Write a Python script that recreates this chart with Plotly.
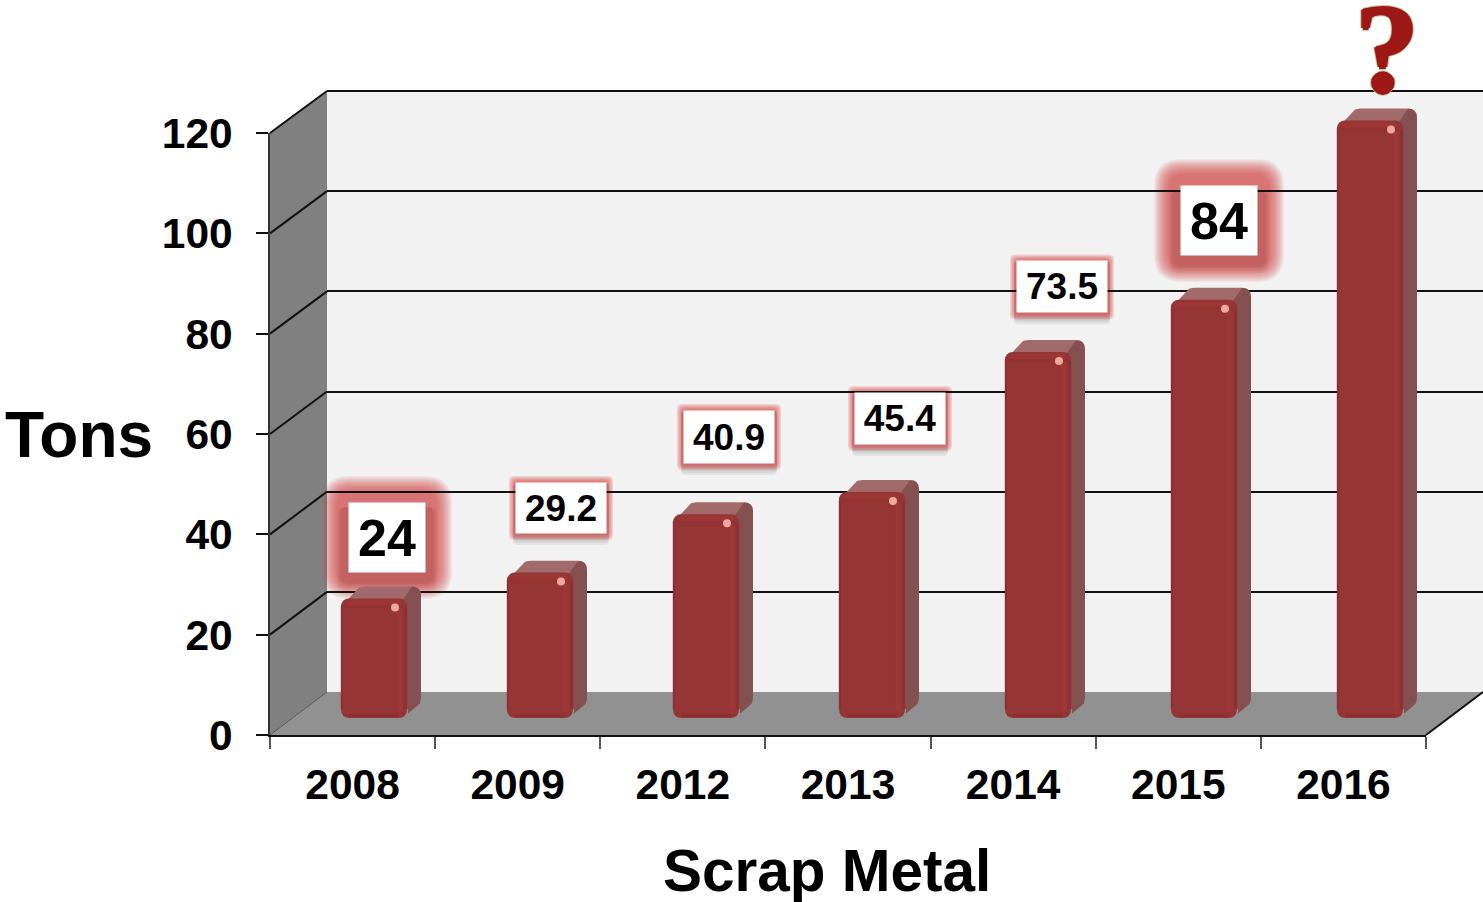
import plotly.graph_objects as go

YEARS = ["2008", "2009", "2012", "2013", "2014", "2015", "2016"]
TONS = [24, 29.2, 40.9, 45.4, 73.5, 84, 120]
LABELS = ["24", "29.2", "40.9", "45.4", "73.5", "84", "?"]
Y_TICKS = [0, 20, 40, 60, 80, 100, 120]
GRID_TICKS = [20, 40, 60, 80, 100, 120]

W, H = 1483, 902
FONT = "Liberation Sans"

# label box layout: centre x, centre y, width, height, font size, big glow
BOXES = [
    (387, 537.5, 76, 69, 52, True),
    (561, 508, 90, 50, 37, False),
    (729, 437, 90, 52, 37, False),
    (900, 418.5, 90, 51, 37, False),
    (1062, 287, 90, 51, 37, False),
    (1219, 220.5, 76, 69, 52, True),
]


def px(x):
    return x / W


def py(y):
    return 1 - y / H


def poly(points):
    return "M " + " L ".join(f"{px(x)},{py(y)}" for x, y in points) + " Z"


def rrect(x0, y0, x1, y1, r):
    X0, X1, Y0, Y1 = px(x0), px(x1), py(y0), py(y1)
    rx, ry = r / W, r / H
    return (
        f"M {X0+rx},{Y0} L {X1-rx},{Y0} Q {X1},{Y0} {X1},{Y0-ry} "
        f"L {X1},{Y1+ry} Q {X1},{Y1} {X1-rx},{Y1} L {X0+rx},{Y1} "
        f"Q {X0},{Y1} {X0},{Y1+ry} L {X0},{Y0-ry} Q {X0},{Y0} {X0+rx},{Y0} Z"
    )


shapes = []


def pshape(path, fill, line=None, width=0, layer="below"):
    shapes.append(dict(type="path", path=path, xref="paper", yref="paper", fillcolor=fill,
                       line=dict(color=line or "rgba(0,0,0,0)", width=width), layer=layer))


def pline(x0, y0, x1, y1, color="#111111", width=2):
    shapes.append(dict(type="line", xref="paper", yref="paper", x0=px(x0), y0=py(y0), x1=px(x1), y1=py(y1),
                       line=dict(color=color, width=width), layer="below"))


# walls and floor
pshape(poly([(327, 91), (1483, 91), (1483, 692), (327, 692)]), "#f2f2f2")
pshape(poly([(270, 133), (327, 91), (327, 692), (270, 735)]), "#808080")
pshape(poly([(270, 735), (327, 692), (1483, 692), (1426, 735)]), "#919191")


def y_main(v):
    return 735 - v * (735 - 133) / 120


def y_wall(v):
    return 692 - v * (692 - 91) / 120


for v in Y_TICKS:
    pline(270, y_main(v), 327, y_wall(v), "#111111" if v else "#555555", 2 if v else 1)
pline(1426, 735, 1483, 692)
pline(327, y_wall(120), 1483, y_wall(120))

# label glows
for cx, cy, w, h, fs, big in BOXES:
    x0, x1, y0, y1 = cx - w / 2, cx + w / 2, cy - h / 2, cy + h / 2
    if big:
        for i in range(16):
            e = 27 - i
            pshape(rrect(x0 - e, y0 - e, x1 + e, y1 + e, 27 - i * 0.8), "rgba(215,60,60,0.068)")
        for i in range(5):
            pshape(rrect(x0 - 12 + i, y0 + 4, x1 + 12 - i, y1 + 18 - 2 * i, 8), "rgba(110,20,20,0.04)")
    else:
        for i in range(4):
            e = 3 + i * 2
            pshape(rrect(x0 - 3, y0, x1 + 3, y1 + e + 3, 4), "rgba(0,0,0,0.055)")
        for i in range(5):
            e = 7 - i * 1.2
            pshape(rrect(x0 - e, y0 - e, x1 + e, y1 + e, 5), "rgba(215,60,60,0.18)")

# bar depth and gloss
HALF, DX, DY = 33, 14, 2.4
u = 1 / 4.98
FLOOR = "#919191"


def bshape(i, path, fill, layer="above"):
    shapes.append(dict(type="path", xref="x3", yref="y3", xsizemode="pixel", xanchor=i, path=path,
                       fillcolor=fill, line=dict(color="rgba(0,0,0,0)", width=0), layer=layer))


def strip(i, x0, x1, yb, yt, fill):
    bshape(i, f"M {x0},{yb} L {x1},{yb} L {x1},{yt} L {x0},{yt} Z", fill)


for i, v in enumerate(TONS):
    side = (
        f"M {HALF-8},{v} L {HALF+DX-9},{v+DY} Q {HALF+DX},{v+DY} {HALF+DX},{v+DY-9*u} "
        f"L {HALF+DX},{DY+8*u} Q {HALF+DX},{DY+3*u} {HALF+DX-4},{DY} L {HALF-3},{1*u} L {HALF-8},{8*u} Z"
    )
    bshape(i, side, "#855050", "below")
    top = (
        f"M {-HALF+4},{v-4*u} L {-HALF+DX+4},{v+DY-1*u} Q {-HALF+DX+8},{v+DY} {-HALF+DX+10},{v+DY} "
        f"L {HALF+DX-9},{v+DY} L {HALF-6},{v-4*u} Z"
    )
    bshape(i, top, "#a26a6a", "below")
    # round the foot of the bar against the floor
    r = 9
    bshape(i, f"M {-HALF-1},{-1*u} L {-HALF+r},{-1*u} L {-HALF+r},{0} Q {-HALF},{0} {-HALF},{r*u} L {-HALF-1},{r*u} Z", FLOOR)
    bshape(i, f"M {HALF+1},{-1*u} L {HALF-r},{-1*u} L {HALF-r},{0} Q {HALF},{0} {HALF},{r*u} L {HALF+1},{r*u} Z", FLOOR)
    # front-face gloss
    strip(i, -HALF, -HALF + 2, 9 * u, v - 9 * u, "rgba(105,25,25,0.18)")
    strip(i, HALF - 11, HALF - 7, 7 * u, v - 9 * u, "rgba(175,65,60,0.14)")
    strip(i, HALF - 9, HALF - 4, 7 * u, v - 9 * u, "rgba(175,65,60,0.20)")
    strip(i, HALF - 3, HALF, 9 * u, v - 9 * u, "rgba(105,25,25,0.14)")
    strip(i, -HALF + 6, HALF - 6, v - 7 * u, v - 2 * u, "rgba(175,65,60,0.25)")
    strip(i, -HALF + 3, HALF - 3, v - 10 * u, v - 7 * u, "rgba(105,25,25,0.06)")
    strip(i, -HALF + 8, HALF - 8, 1 * u, 4 * u, "rgba(110,30,30,0.25)")
    bshape(i, (
        f"M {HALF-16},{v-9*u} Q {HALF-16},{v-5*u} {HALF-12},{v-5*u} Q {HALF-8},{v-5*u} {HALF-8},{v-9*u} "
        f"Q {HALF-8},{v-13*u} {HALF-12},{v-13*u} Q {HALF-16},{v-13*u} {HALF-16},{v-9*u} Z"
    ), "#eda99f")

fig = go.Figure()
fig.add_trace(go.Scatter(x=[0.5] * len(GRID_TICKS), y=GRID_TICKS, xaxis="x", yaxis="y", mode="markers",
                         marker=dict(opacity=0), hoverinfo="skip", showlegend=False))
fig.add_trace(go.Scatter(x=YEARS, y=[None] * len(YEARS), xaxis="x2", yaxis="y2", mode="markers",
                         marker=dict(opacity=0), hoverinfo="skip", showlegend=False))
fig.add_trace(go.Bar(x=YEARS, y=TONS, xaxis="x3", yaxis="y3",
                     marker=dict(color="#963535", cornerradius=8, line=dict(width=0)), showlegend=False))

annotations = []
for (cx, cy, w, h, fs, big), text in zip(BOXES, LABELS):
    annotations.append(dict(xref="paper", yref="paper", x=px(cx), y=py(cy), xanchor="center", yanchor="middle",
                            text=f"<b>{text}</b>", showarrow=False, width=w, height=h, bgcolor="#ffffff", borderpad=0,
                            font=dict(family=FONT, size=fs, color="#000000")))
annotations.append(dict(xref="paper", yref="paper", x=px(79), y=py(435), xanchor="center", yanchor="middle",
                        text="<b>Tons</b>", showarrow=False, font=dict(family=FONT, size=64, color="#000000")))
annotations.append(dict(xref="paper", yref="paper", x=px(827), y=py(870), xanchor="center", yanchor="middle",
                        text="<b>Scrap Metal</b>", showarrow=False, font=dict(family=FONT, size=58.5, color="#000000")))
q = "#9e1818"
annotations.append(dict(xref="paper", yref="paper", x=px(1387), y=py(48), xanchor="center", yanchor="middle",
                        text=f"<b>{LABELS[-1]}</b>", showarrow=False,
                        font=dict(family="Liberation Serif", size=128, color=q,
                                  shadow=f"1.5px 0 0 {q},-1.5px 0 0 {q},0 1.5px 0 {q},0 -1.5px 0 {q},"
                                         "2.5px 0 0 #c4cc9a,-2.5px 0 0 #c4cc9a,0 2.5px 0 #c4cc9a,0 -2.5px 0 #c4cc9a")))

tickfont = dict(family=FONT, size=42.5, color="#000000", weight="bold")
fig.update_layout(
    template="none",
    width=W, height=H, margin=dict(l=0, r=0, t=0, b=0, pad=0), autosize=False,
    paper_bgcolor="#ffffff", plot_bgcolor="rgba(0,0,0,0)", showlegend=False, barmode="overlay", bargap=0.6,
    shapes=shapes, annotations=annotations,
    xaxis=dict(domain=[px(327), px(1483)], range=[0, 1], visible=False, anchor="y", automargin=False),
    yaxis=dict(domain=[py(692), py(91)], range=[0, 120], anchor="x", showline=False, zeroline=False, automargin=False,
               showgrid=True, gridcolor="#111111", gridwidth=2, tickvals=GRID_TICKS, showticklabels=False, ticks=""),
    xaxis2=dict(domain=[px(270), px(1426)], type="category", categoryorder="array", categoryarray=YEARS,
                range=[-0.5, 6.5], anchor="y2", tickson="boundaries", ticks="outside", ticklen=12, tickwidth=1.5,
                tickcolor="#555555", showline=True, linecolor="#111111", linewidth=2, showgrid=False, automargin=False,
                tickfont=tickfont, ticklabelstandoff=11, tickangle=0),
    yaxis2=dict(domain=[py(735), py(133)], range=[0, 120], anchor="x2", tickvals=Y_TICKS, ticks="outside", ticklen=12,
                tickwidth=2, tickcolor="#111111", showline=True, linecolor="#333333", linewidth=1.5, showgrid=False,
                zeroline=False, tickfont=tickfont, ticklabelstandoff=15, automargin=False),
    xaxis3=dict(domain=[px(291), px(1453)], type="category", categoryorder="array", categoryarray=YEARS,
                range=[-0.5, 6.5], anchor="y3", visible=False, automargin=False),
    yaxis3=dict(domain=[py(735), py(20)], range=[-17 / 4.98, 698 / 4.98], anchor="x3", visible=False, automargin=False),
)

fig.write_html("out.html", post_script="document.body.style.margin='0';document.body.style.background='#ffffff';",
               config={"displayModeBar": False})
